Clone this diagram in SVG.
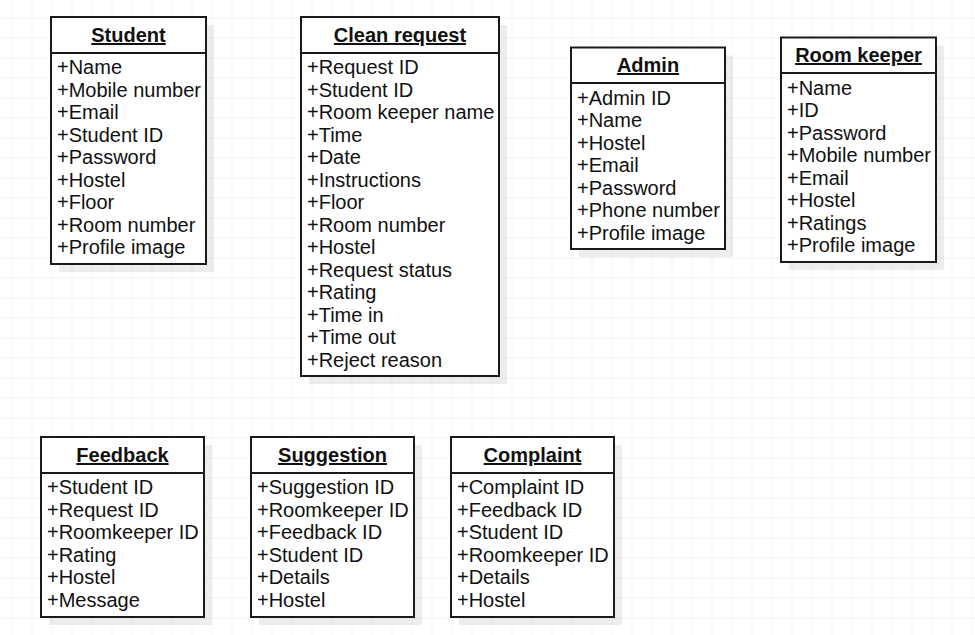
<svg xmlns="http://www.w3.org/2000/svg" width="975" height="635" viewBox="0 0 975 635">
<style>
.box{fill:#fff;stroke:#1a1a1a;stroke-width:2}
.sh{fill:#000;fill-opacity:0.07}
.div{stroke:#1a1a1a;stroke-width:2}
.t{font-family:"Liberation Sans",Arial,sans-serif;font-size:20px;font-weight:bold;fill:#111;text-anchor:middle;text-decoration:underline}
.a{font-family:"Liberation Sans",Arial,sans-serif;font-size:20px;fill:#111}
</style>
<defs>
<pattern id="grid" patternUnits="userSpaceOnUse" x="11.5" y="17.5" width="20" height="20">
<path d="M 20 0 L 0 0 L 0 20" fill="none" stroke="#ebebeb" stroke-width="1"/>
</pattern>
</defs>
<rect width="975" height="635" fill="#fff"/>
<rect width="975" height="635" fill="url(#grid)"/>
<g id="connectors"></g>

<g id="student">
<rect class="sh" x="59" y="25" width="155" height="247"/>
<rect class="box" x="51" y="17" width="155" height="247"/>
<line class="div" x1="51" y1="53" x2="206" y2="53"/>
<text class="t" x="128.5" y="42">Student</text>
<text class="a" x="57" y="74">+Name</text>
<text class="a" x="57" y="96.5">+Mobile number</text>
<text class="a" x="57" y="119">+Email</text>
<text class="a" x="57" y="141.5">+Student ID</text>
<text class="a" x="57" y="164">+Password</text>
<text class="a" x="57" y="186.5">+Hostel</text>
<text class="a" x="57" y="209">+Floor</text>
<text class="a" x="57" y="231.5">+Room number</text>
<text class="a" x="57" y="254">+Profile image</text>
</g>

<g id="clean-request">
<rect class="sh" x="309" y="25" width="198" height="359"/>
<rect class="box" x="301" y="17" width="198" height="359"/>
<line class="div" x1="301" y1="53" x2="499" y2="53"/>
<text class="t" x="400" y="42">Clean request</text>
<text class="a" x="307" y="74">+Request ID</text>
<text class="a" x="307" y="96.5">+Student ID</text>
<text class="a" x="307" y="119">+Room keeper name</text>
<text class="a" x="307" y="141.5">+Time</text>
<text class="a" x="307" y="164">+Date</text>
<text class="a" x="307" y="186.5">+Instructions</text>
<text class="a" x="307" y="209">+Floor</text>
<text class="a" x="307" y="231.5">+Room number</text>
<text class="a" x="307" y="254">+Hostel</text>
<text class="a" x="307" y="276.5">+Request status</text>
<text class="a" x="307" y="299">+Rating</text>
<text class="a" x="307" y="321.5">+Time in</text>
<text class="a" x="307" y="344">+Time out</text>
<text class="a" x="307" y="366.5">+Reject reason</text>
</g>

<g id="admin">
<rect class="sh" x="579" y="55.5" width="154" height="201.5"/>
<rect class="box" x="571" y="47.5" width="154" height="201.5"/>
<line class="div" x1="571" y1="83" x2="725" y2="83"/>
<text class="t" x="648" y="72">Admin</text>
<text class="a" x="577" y="104.5">+Admin ID</text>
<text class="a" x="577" y="127">+Name</text>
<text class="a" x="577" y="149.5">+Hostel</text>
<text class="a" x="577" y="172">+Email</text>
<text class="a" x="577" y="194.5">+Password</text>
<text class="a" x="577" y="217">+Phone number</text>
<text class="a" x="577" y="239.5">+Profile image</text>
</g>

<g id="room-keeper">
<rect class="sh" x="789" y="45.5" width="155" height="224.5"/>
<rect class="box" x="781" y="37.5" width="155" height="224.5"/>
<line class="div" x1="781" y1="73" x2="936" y2="73"/>
<text class="t" x="858.5" y="62">Room keeper</text>
<text class="a" x="787" y="94.5">+Name</text>
<text class="a" x="787" y="117">+ID</text>
<text class="a" x="787" y="139.5">+Password</text>
<text class="a" x="787" y="162">+Mobile number</text>
<text class="a" x="787" y="184.5">+Email</text>
<text class="a" x="787" y="207">+Hostel</text>
<text class="a" x="787" y="229.5">+Ratings</text>
<text class="a" x="787" y="252">+Profile image</text>
</g>

<g id="feedback">
<rect class="sh" x="49" y="445" width="163" height="180"/>
<rect class="box" x="41" y="437" width="163" height="180"/>
<line class="div" x1="41" y1="473" x2="204" y2="473"/>
<text class="t" x="122.5" y="462">Feedback</text>
<text class="a" x="47" y="494">+Student ID</text>
<text class="a" x="47" y="516.5">+Request ID</text>
<text class="a" x="47" y="539">+Roomkeeper ID</text>
<text class="a" x="47" y="561.5">+Rating</text>
<text class="a" x="47" y="584">+Hostel</text>
<text class="a" x="47" y="606.5">+Message</text>
</g>

<g id="suggestion">
<rect class="sh" x="259" y="445" width="163" height="180"/>
<rect class="box" x="251" y="437" width="163" height="180"/>
<line class="div" x1="251" y1="473" x2="414" y2="473"/>
<text class="t" x="332.5" y="462">Suggestion</text>
<text class="a" x="257" y="494">+Suggestion ID</text>
<text class="a" x="257" y="516.5">+Roomkeeper ID</text>
<text class="a" x="257" y="539">+Feedback ID</text>
<text class="a" x="257" y="561.5">+Student ID</text>
<text class="a" x="257" y="584">+Details</text>
<text class="a" x="257" y="606.5">+Hostel</text>
</g>

<g id="complaint">
<rect class="sh" x="459" y="445" width="163" height="180"/>
<rect class="box" x="451" y="437" width="163" height="180"/>
<line class="div" x1="451" y1="473" x2="614" y2="473"/>
<text class="t" x="532.5" y="462">Complaint</text>
<text class="a" x="457" y="494">+Complaint ID</text>
<text class="a" x="457" y="516.5">+Feedback ID</text>
<text class="a" x="457" y="539">+Student ID</text>
<text class="a" x="457" y="561.5">+Roomkeeper ID</text>
<text class="a" x="457" y="584">+Details</text>
<text class="a" x="457" y="606.5">+Hostel</text>
</g>
</svg>
